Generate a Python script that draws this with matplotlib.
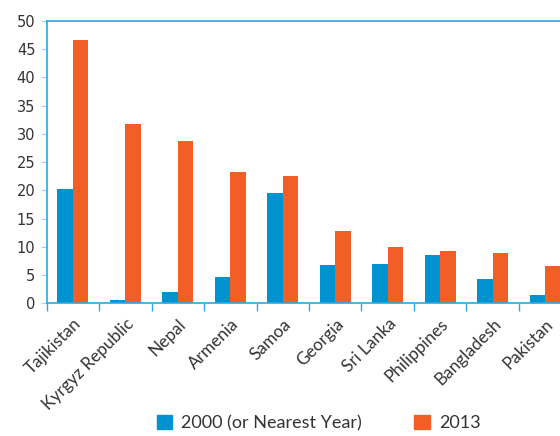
import matplotlib.pyplot as plt
import numpy as np
from matplotlib.patches import Patch

countries = ['Tajikistan', 'Kyrgyz Republic', 'Nepal', 'Armenia', 'Samoa',
             'Georgia', 'Sri Lanka', 'Philippines', 'Bangladesh', 'Pakistan']
y2000 = [20.2, 0.6, 2.0, 4.6, 19.5, 6.8, 6.9, 8.5, 4.3, 1.5]
y2013 = [46.6, 31.7, 28.8, 23.3, 22.5, 12.8, 9.9, 9.2, 8.9, 6.6]

blue = '#0093D0'
orange = '#F15F26'
axis_col = '#29A9E1'

plt.rcParams['font.family'] = ['Lato', 'DejaVu Sans']

fig = plt.figure(figsize=(5.6, 4.36), dpi=100)
ax = fig.add_axes([46.5 / 560, 0.3044, 1 - 46.5 / 560, 0.648])

x = np.arange(len(countries))
w = 0.295
ax.bar(x - w / 2, y2000, w, color=blue)
ax.bar(x + w / 2, y2013, w, color=orange)

ax.set_yticks(range(0, 51, 5))
ax.tick_params(axis='y', labelsize=10.5, length=4, color='#9DD3EE', colors='#333333',
               direction='out', pad=4)
for lbl in ax.get_yticklabels():
    lbl.set_family('DejaVu Sans')

ax.set_xticks(x)
ax.set_xticklabels(countries, rotation=45, ha='right', rotation_mode='anchor',
                   fontsize=12.3, color='#333333')
ax.tick_params(axis='x', which='major', length=0, pad=9)
ax.set_xticks(np.arange(-0.5, 10, 1), minor=True)
ax.tick_params(axis='x', which='minor', length=6, color=axis_col, width=1)

# set limits after ticks so the tick setters don't widen the view
ax.set_xlim(-0.5, 9.5 - 11.5 / 52.5)
ax.set_ylim(0, 50)

for s in ['left', 'bottom', 'top']:
    ax.spines[s].set_color(axis_col)
    ax.spines[s].set_linewidth(1.2)
ax.spines['right'].set_visible(False)

handles = [Patch(color=blue, label='2000 (or Nearest Year)'),
           Patch(color=orange, label='2013')]
fig.legend(handles=handles, loc='center', bbox_to_anchor=(0.569, 0.03), ncol=2,
           frameon=False, fontsize=13, handlelength=0.85, handleheight=0.85,
           columnspacing=2.9, handletextpad=0.5, labelcolor='#333333')

fig.savefig('out.png', dpi=100)
